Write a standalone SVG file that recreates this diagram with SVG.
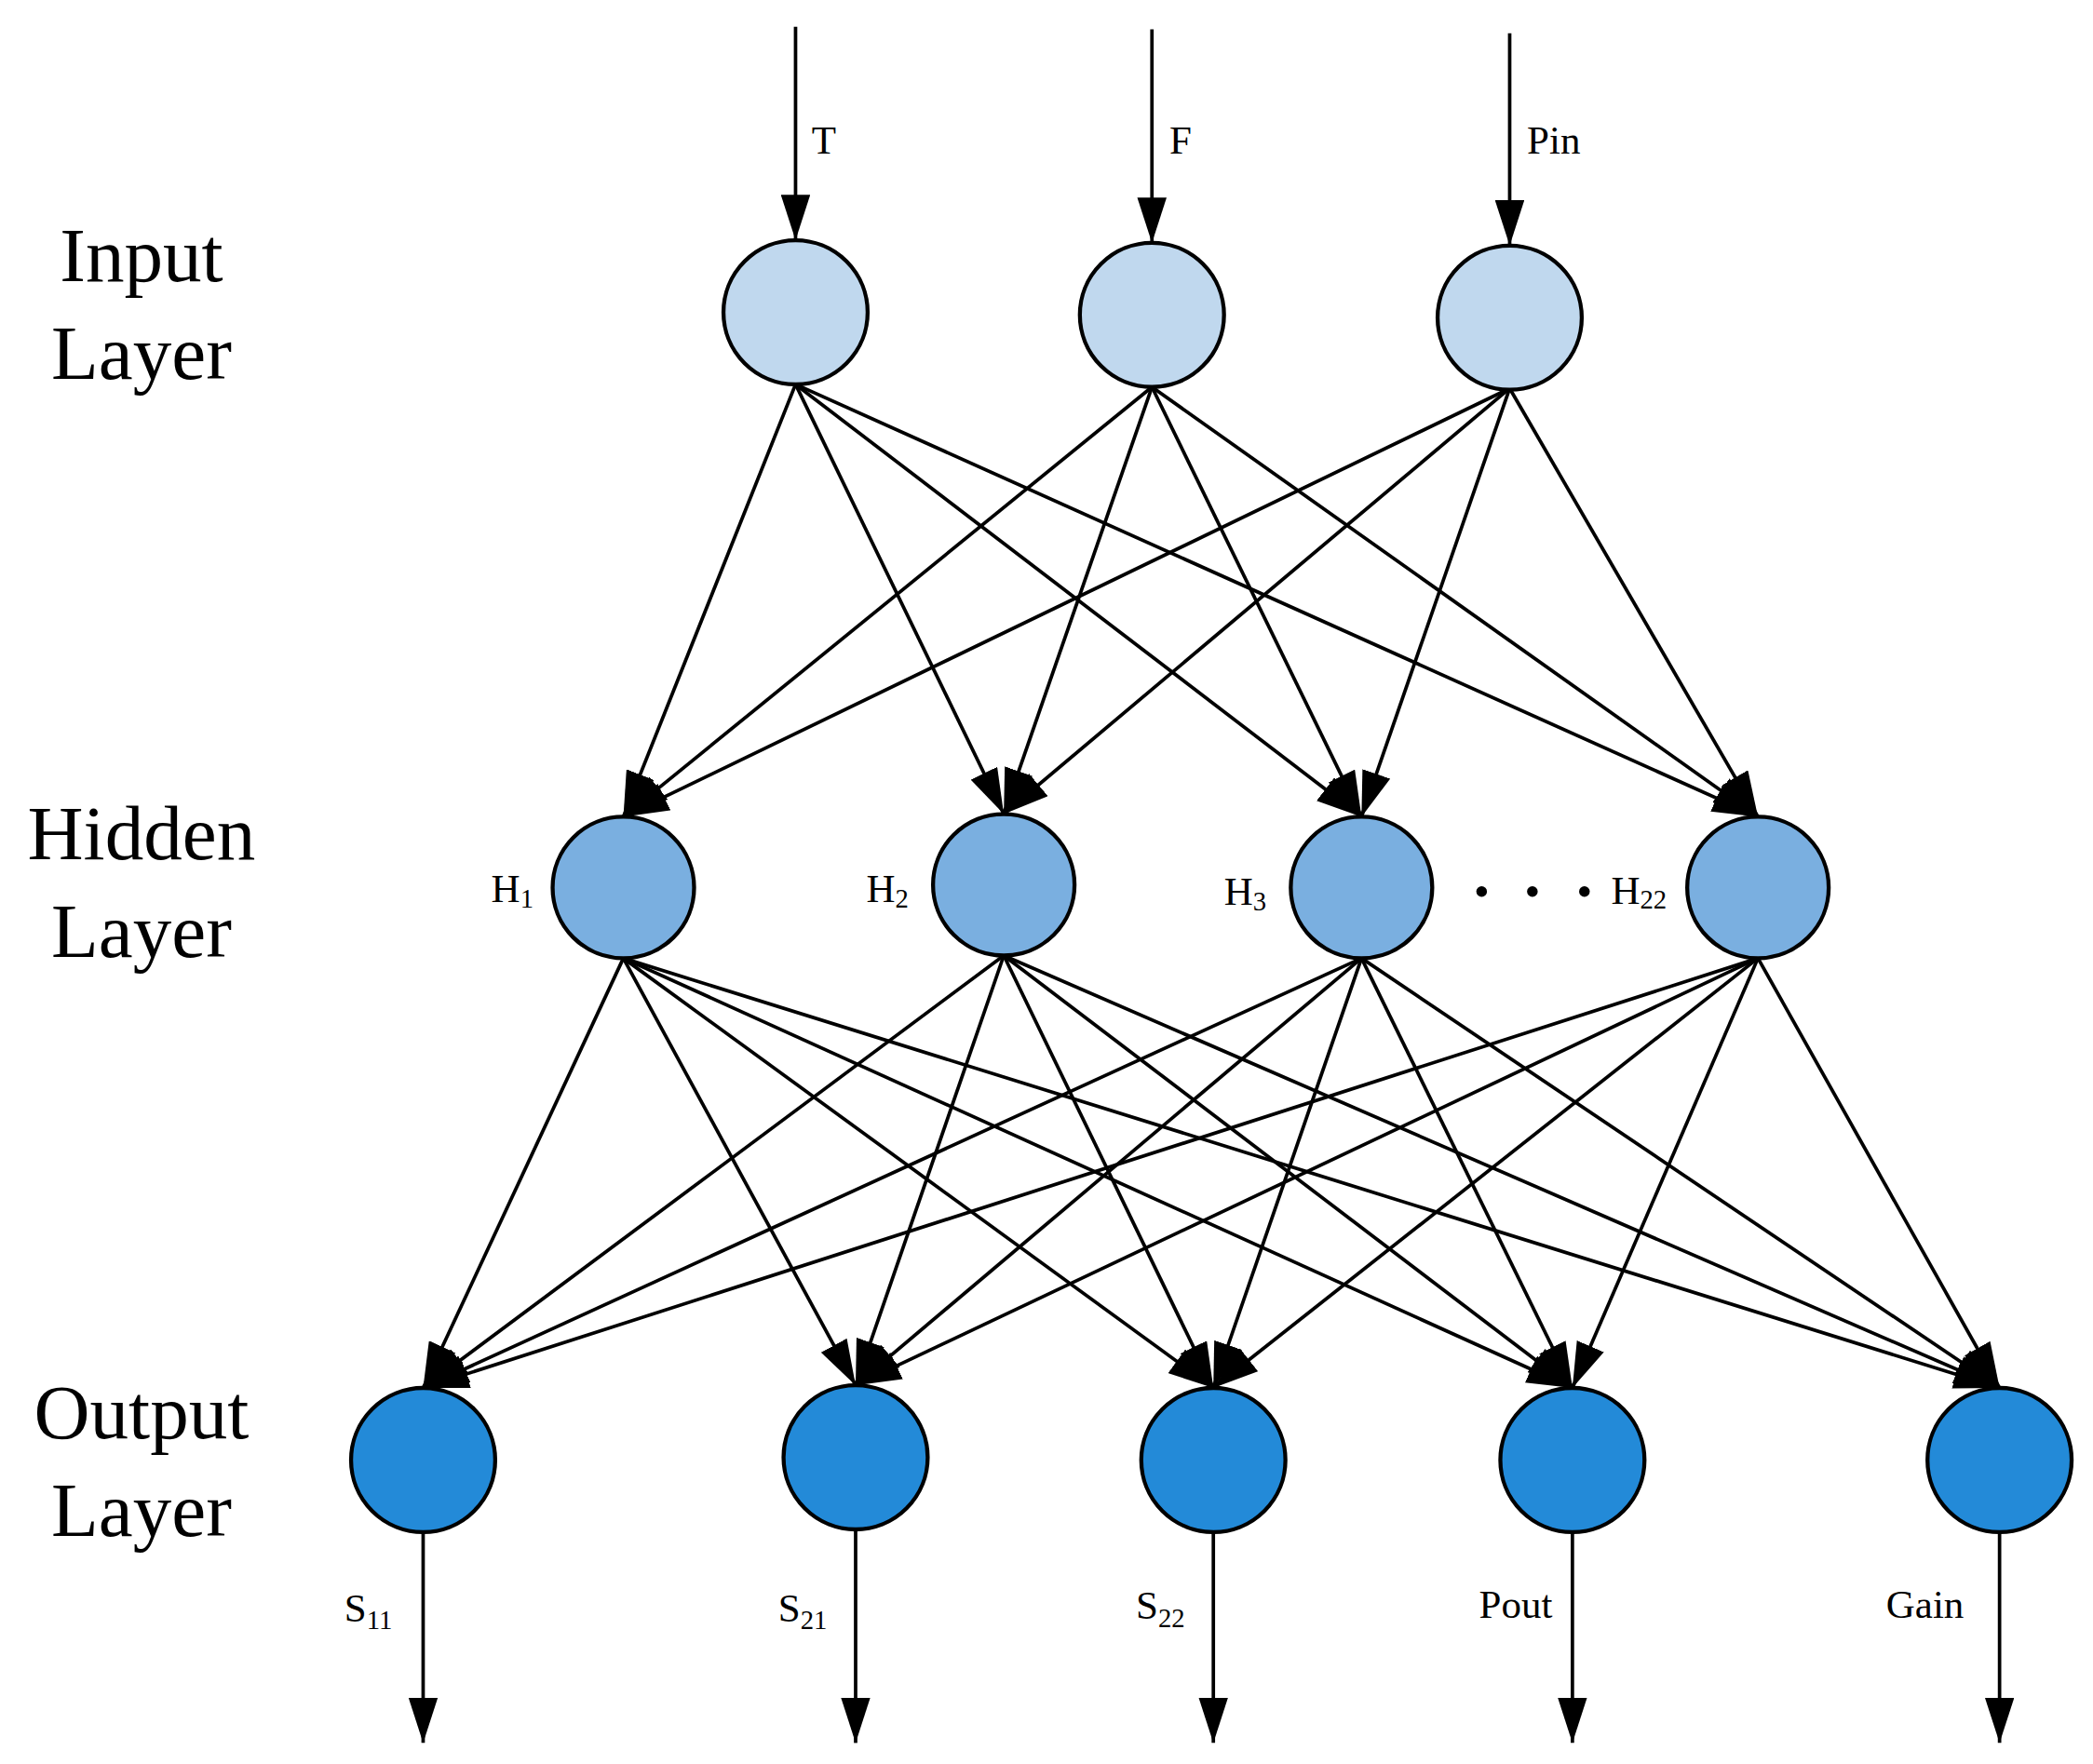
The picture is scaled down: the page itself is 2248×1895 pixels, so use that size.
<svg xmlns="http://www.w3.org/2000/svg" width="2248" height="1895" viewBox="0 0 2248 1895">
<defs>
<style>
.e{stroke:#000;stroke-width:2.6;fill:none;marker-end:url(#a)}
.n{stroke:#000;stroke-width:3}
.i{fill:#C0D8EE}.h{fill:#7AAFE0}.o{fill:#238AD8}
.t{font-family:"Liberation Serif",serif;fill:#000}
.big{font-size:58px;text-anchor:middle}
.sm{font-size:30px}
</style>
<marker id="a" markerUnits="userSpaceOnUse" viewBox="0 0 34 22" refX="34" refY="11" markerWidth="34" markerHeight="22" orient="auto"><path d="M0,0 L34,11 L0,22 z" fill="#000"/></marker>
</defs>
<rect width="2248" height="1895" fill="#fff"/>
<g transform="scale(1.43367)">
<g id="connectors">
<line class="e" x1="596" y1="20" x2="596" y2="180"/>
<line class="e" x1="863" y1="22" x2="863" y2="182"/>
<line class="e" x1="1131" y1="25" x2="1131" y2="184"/>
<line class="e" x1="596" y1="288" x2="467" y2="612"/>
<line class="e" x1="596" y1="288" x2="752" y2="610"/>
<line class="e" x1="596" y1="288" x2="1020" y2="612"/>
<line class="e" x1="596" y1="288" x2="1317" y2="612"/>
<line class="e" x1="863" y1="290" x2="467" y2="612"/>
<line class="e" x1="863" y1="290" x2="752" y2="610"/>
<line class="e" x1="863" y1="290" x2="1020" y2="612"/>
<line class="e" x1="863" y1="290" x2="1317" y2="612"/>
<line class="e" x1="1131" y1="291" x2="467" y2="612"/>
<line class="e" x1="1131" y1="291" x2="752" y2="610"/>
<line class="e" x1="1131" y1="291" x2="1020" y2="612"/>
<line class="e" x1="1131" y1="291" x2="1317" y2="612"/>
<line class="e" x1="467" y1="718" x2="317" y2="1040"/>
<line class="e" x1="467" y1="718" x2="641" y2="1038"/>
<line class="e" x1="467" y1="718" x2="909" y2="1040"/>
<line class="e" x1="467" y1="718" x2="1178" y2="1040"/>
<line class="e" x1="467" y1="718" x2="1498" y2="1040"/>
<line class="e" x1="752" y1="716" x2="317" y2="1040"/>
<line class="e" x1="752" y1="716" x2="641" y2="1038"/>
<line class="e" x1="752" y1="716" x2="909" y2="1040"/>
<line class="e" x1="752" y1="716" x2="1178" y2="1040"/>
<line class="e" x1="752" y1="716" x2="1498" y2="1040"/>
<line class="e" x1="1020" y1="718" x2="317" y2="1040"/>
<line class="e" x1="1020" y1="718" x2="641" y2="1038"/>
<line class="e" x1="1020" y1="718" x2="909" y2="1040"/>
<line class="e" x1="1020" y1="718" x2="1178" y2="1040"/>
<line class="e" x1="1020" y1="718" x2="1498" y2="1040"/>
<line class="e" x1="1317" y1="718" x2="317" y2="1040"/>
<line class="e" x1="1317" y1="718" x2="641" y2="1038"/>
<line class="e" x1="1317" y1="718" x2="909" y2="1040"/>
<line class="e" x1="1317" y1="718" x2="1178" y2="1040"/>
<line class="e" x1="1317" y1="718" x2="1498" y2="1040"/>
<line class="e" x1="317" y1="1148" x2="317" y2="1306"/>
<line class="e" x1="641" y1="1146" x2="641" y2="1306"/>
<line class="e" x1="909" y1="1148" x2="909" y2="1306"/>
<line class="e" x1="1178" y1="1148" x2="1178" y2="1306"/>
<line class="e" x1="1498" y1="1148" x2="1498" y2="1306"/>
</g>
<g id="in1"><circle class="n i" cx="596" cy="234" r="54"/><text class="t sm" x="608" y="115">T</text></g>
<g id="in2"><circle class="n i" cx="863" cy="236" r="54"/><text class="t sm" x="876" y="115">F</text></g>
<g id="in3"><circle class="n i" cx="1131" cy="238" r="54"/><text class="t sm" x="1144" y="115">Pin</text></g>
<g id="h1"><circle class="n h" cx="467" cy="665" r="53"/><text class="t sm" x="368" y="676">H<tspan font-size="20" dy="4">1</tspan></text></g>
<g id="h2"><circle class="n h" cx="752" cy="663" r="53"/><text class="t sm" x="649" y="676">H<tspan font-size="20" dy="4">2</tspan></text></g>
<g id="h3"><circle class="n h" cx="1020" cy="665" r="53"/><text class="t sm" x="917" y="678">H<tspan font-size="20" dy="4">3</tspan></text></g>
<g id="h22"><circle class="n h" cx="1317" cy="665" r="53"/><text class="t sm" x="1207" y="677">H<tspan font-size="20" dy="4">22</tspan></text></g>
<g id="dots"><circle cx="1110" cy="668" r="4"/><circle cx="1148" cy="668" r="4"/><circle cx="1187" cy="668" r="4"/></g>
<g id="o1"><circle class="n o" cx="317" cy="1094" r="54"/><text class="t sm" x="258" y="1215">S<tspan font-size="20" dy="6">11</tspan></text></g>
<g id="o2"><circle class="n o" cx="641" cy="1092" r="54"/><text class="t sm" x="583" y="1215">S<tspan font-size="20" dy="6">21</tspan></text></g>
<g id="o3"><circle class="n o" cx="909" cy="1094" r="54"/><text class="t sm" x="851" y="1213">S<tspan font-size="20" dy="6">22</tspan></text></g>
<g id="o4"><circle class="n o" cx="1178" cy="1094" r="54"/><text class="t sm" x="1108" y="1212">Pout</text></g>
<g id="o5"><circle class="n o" cx="1498" cy="1094" r="54"/><text class="t sm" x="1413" y="1212">Gain</text></g>
<g id="labels">
<text class="t big" x="106" y="211">Input</text><text class="t big" x="106" y="284">Layer</text>
<text class="t big" x="106" y="644">Hidden</text><text class="t big" x="106" y="717">Layer</text>
<text class="t big" x="106" y="1078">Output</text><text class="t big" x="106" y="1151">Layer</text>
</g>
</g>
</svg>
